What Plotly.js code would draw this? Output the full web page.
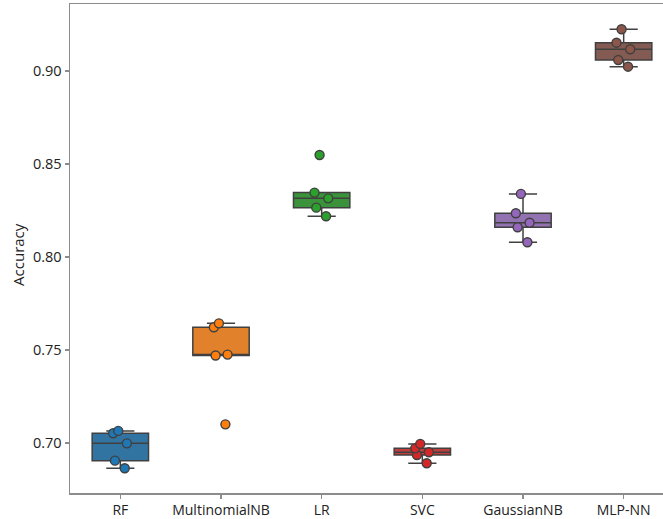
<!DOCTYPE html>
<html>
<head>
<meta charset="utf-8">
<script src="https://cdn.plot.ly/plotly-3.0.1.min.js"></script>
<style>
  html, body { margin: 0; padding: 0; overflow: hidden; background: #ffffff; }
  #chart { width: 676px; height: 519px; }
</style>
</head>
<body>
<div id="chart"></div>
<script>
// Model names, in plotting order
const models = ['RF', 'MultinomialNB', 'LR', 'SVC', 'GaussianNB', 'MLP-NN'];

// Cross-validation accuracy per fold for each model
const rfAcc  = [0.7065, 0.7052, 0.6998, 0.6905, 0.6864];
const mnbAcc = [0.7643, 0.7622, 0.7475, 0.7470, 0.7100];
const lrAcc  = [0.8548, 0.8346, 0.8315, 0.8265, 0.8219];
const svcAcc = [0.6995, 0.6971, 0.6950, 0.6935, 0.6891];
const gnbAcc = [0.8339, 0.8235, 0.8184, 0.8160, 0.8079];
const mlpAcc = [0.9224, 0.9152, 0.9117, 0.9059, 0.9023];

const accuracies = [rfAcc, mnbAcc, lrAcc, svcAcc, gnbAcc, mlpAcc];

// y-axis ticks
const yTicks = [0.70, 0.75, 0.80, 0.85, 0.90];

// Box fills (muted) and point colours (full strength)
const boxFill   = ['#3274a1', '#e1812c', '#3a923a', '#c03d3e', '#9372b2', '#845b53'];
const pointFill = ['#1f77b4', '#ff7f0e', '#2ca02c', '#d62728', '#9467bd', '#8c564b'];

const edgeGray = '#404040';
const frameGray = '#8c8c8c';
const textColor = '#222222';

const traces = models.map((name, i) => ({
  type: 'box',
  x: accuracies[i].map(() => name),
  y: accuracies[i],
  name: name,
  boxpoints: 'all',
  jitter: 0.3,
  pointpos: 0,
  quartilemethod: 'inclusive',
  whiskerwidth: 0.5,
  fillcolor: boxFill[i],
  line: { color: edgeGray, width: 1.5 },
  marker: { color: pointFill[i], size: 9, line: { color: edgeGray, width: 1.4 } },
  showlegend: false,
  hoverinfo: 'skip'
}));

const layout = {
  width: 676,
  height: 519,
  margin: { l: 70, r: 2, t: 4, b: 26 },
  paper_bgcolor: '#ffffff',
  plot_bgcolor: '#ffffff',
  boxmode: 'overlay',
  boxgap: 0.2,
  showlegend: false,
  xaxis: {
    type: 'category',
    categoryorder: 'array',
    categoryarray: models,
    range: [-0.5, 5.5],
    ticks: 'outside',
    ticklen: 4,
    tickwidth: 1.2,
    tickcolor: frameGray,
    showgrid: false,
    zeroline: false,
    showline: true,
    mirror: true,
    linecolor: frameGray,
    linewidth: 1.5,
    tickfont: { family: '"Open Sans", sans-serif', size: 14, color: textColor },
    automargin: false
  },
  yaxis: {
    range: [0.6731, 0.9360],
    tickmode: 'array',
    tickvals: yTicks,
    ticktext: yTicks.map(v => v.toFixed(2)),
    ticks: 'outside',
    ticklen: 4,
    tickwidth: 1.2,
    tickcolor: frameGray,
    showgrid: false,
    zeroline: false,
    showline: true,
    mirror: true,
    linecolor: frameGray,
    linewidth: 1.5,
    tickfont: { family: '"Open Sans", sans-serif', size: 14.5, color: textColor },
    automargin: false
  },
  annotations: [{
    text: 'Accuracy',
    xref: 'paper', yref: 'paper',
    x: -0.086, y: 0.487,
    xanchor: 'center', yanchor: 'middle',
    textangle: -90,
    showarrow: false,
    font: { family: '"Open Sans", sans-serif', size: 15, color: textColor }
  }]
};

Plotly.newPlot('chart', traces, layout, { displayModeBar: false, staticPlot: true });
</script>
</body>
</html>
